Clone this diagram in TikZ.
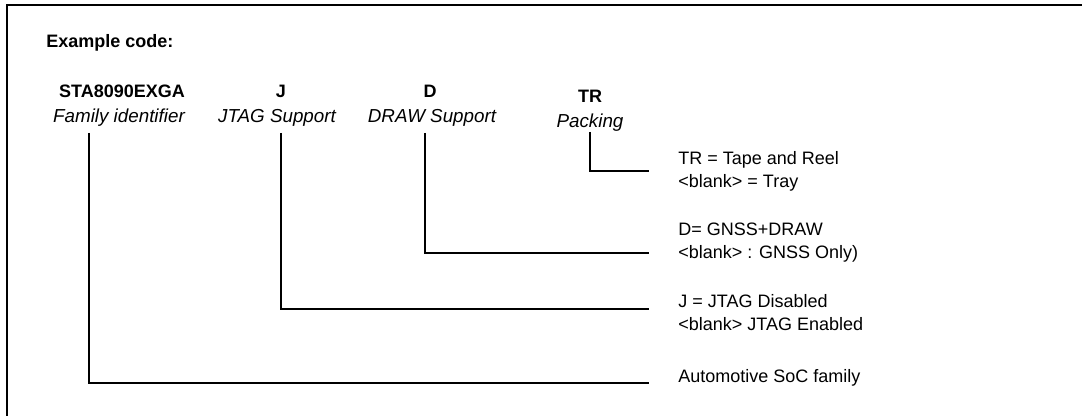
\documentclass[tikz,border=0pt]{standalone}
\usepackage{fontspec}
\setmainfont{Liberation Sans}
\usetikzlibrary{positioning}
\tikzstyle{code} = [font=\fontsize{9}{11.5}\selectfont\bfseries, inner sep=0pt]
\tikzstyle{field} = [font=\fontsize{9.4}{11.5}\selectfont\itshape, inner sep=0pt]
\tikzstyle{meaning} = [font=\fontsize{9}{11.5}\selectfont, align=left, anchor=west, inner sep=0pt]
\tikzstyle{link} = [line width=1pt]

\begin{document}
\begin{tikzpicture}[x=0.5pt, y=-0.5pt]
	\useasboundingbox (0,0) rectangle (1082,416);
	\draw[line width=1pt] (7,416) -- (7,5) -- (1082,5);

	%codes
	\node[code, anchor=west] (title) at (46,43) {Example code:};
	\node[code] (family) at (122,91) {STA8090EXGA};
	\node[field] (familyname) at (119,118) {Family identifier};
	\node[code] (jtag) at (281,91) {J};
	\node[field] (jtagname) at (277,118) {JTAG Support};
	\node[code] (draw) at (430,91) {D};
	\node[field] (drawname) at (432,118) {DRAW Support};
	\node[code] (pack) at (590,96) {TR};
	\node[field] (packname) at (590,123) {Packing};

	%meanings
	\node[meaning] (packmean) at (678,171.5) {TR = Tape and Reel\\<blank> = Tray};
	\node[meaning] (drawmean) at (678,242.5) {D= GNSS+DRAW\\<blank> : GNSS Only)};
	\node[meaning] (jtagmean) at (678,312.5) {J = JTAG Disabled\\<blank> JTAG Enabled};
	\node[meaning] (familymean) at (678,378) {Automotive SoC family};

	%connectors
	\coordinate (familytop) at (89,133);
	\coordinate (jtagtop) at (281,133);
	\coordinate (drawtop) at (425,133);
	\coordinate (packtop) at (590,132);
	\coordinate (familyend) at (649,383);
	\coordinate (jtagend) at (649,309);
	\coordinate (drawend) at (649,253);
	\coordinate (packend) at (649,171);
	\draw[link] (familytop) |- (familyend);
	\draw[link] (jtagtop) |- (jtagend);
	\draw[link] (drawtop) |- (drawend);
	\draw[link] (packtop) |- (packend);
\end{tikzpicture}
\end{document}
